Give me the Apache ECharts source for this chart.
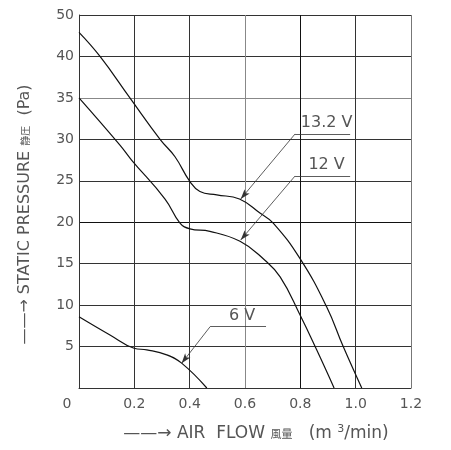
<!DOCTYPE html>
<html>
<head>
<meta charset="utf-8">
<script src="https://cdn.jsdelivr.net/npm/echarts@6/dist/echarts.min.js"></script>
<style>
  html, body { margin: 0; padding: 0; background: #fff; }
  #main { width: 451px; height: 450px; }
</style>
</head>
<body>
<div id="main"></div>
<script>
// air flow (m3/min) and static pressure (Pa)
const flow132 = [0, 0.076, 0.184, 0.293, 0.347, 0.401, 0.437, 0.498, 0.58, 0.654, 0.702, 0.799, 0.895, 0.955, 1.022];
const pres132 = [42.9, 40.0, 35.0, 30.0, 27.9, 24.9, 23.7, 23.3, 22.8, 21.1, 19.9, 15.6, 9.8, 5.0, 0];

const flow12 = [0, 0.148, 0.19, 0.311, 0.365, 0.401, 0.473, 0.582, 0.666, 0.727, 0.799, 0.859, 0.922];
const pres12 = [35.0, 29.3, 27.5, 22.8, 19.9, 19.2, 18.9, 17.7, 15.6, 13.4, 8.8, 4.6, 0];

const flow6 = [0, 0.112, 0.199, 0.245, 0.317, 0.371, 0.462];
const pres6 = [8.6, 6.4, 4.8, 4.6, 4.0, 3.0, 0];

// tick labels (the drawing labels its top line "50")
const yTickLabels = ['0', '5', '10', '15', '20', '25', '30', '35', '40', '50'];
const xTickLabels = ['0', '0.2', '0.4', '0.6', '0.8', '1.0', '1.2'];

// callouts: [label, point on curve, elbow, end of underline]
const callouts = [
    ['13.2 V', [0.5845, 22.8], [0.781, 30.65], [0.98, 30.65]],
    ['12 V', [0.5845, 17.86], [0.781, 25.58], [0.98, 25.58]],
    ['6 V', [0.371, 2.98], [0.474, 7.4], [0.676, 7.4]]
];

const chart = echarts.init(document.getElementById('main'));

const txt = '#555';
const font = 'DejaVu Sans';

function pairs(xs, ys) {
    return xs.map((x, i) => [x, ys[i]]);
}

function calloutLines(c) {
    return {
        silent: true,
        animation: false,
        lineStyle: { color: '#333', width: 0.8, type: 'solid' },
        data: [
            [
                { coord: c[1], symbol: 'arrow', symbolSize: [5, 10] },
                { coord: c[2], symbol: 'none' }
            ],
            [
                { coord: c[2], symbol: 'none' },
                {
                    coord: c[3], symbol: 'none',
                    label: {
                        show: true,
                        position: 'insideMiddleTop',
                        formatter: c[0],
                        color: txt,
                        fontFamily: font,
                        fontSize: 16,
                        distance: 3,
                        offset: [4, 0]
                    }
                }
            ]
        ],
        label: { show: false }
    };
}

const seriesData = [
    pairs(flow132, pres132),
    pairs(flow12, pres12),
    pairs(flow6, pres6)
];

const option = {
    animation: false,
    backgroundColor: '#fff',
    grid: { left: 79, right: 40, top: 15, bottom: 62 },
    xAxis: {
        type: 'value',
        min: 0, max: 1.2, interval: 0.2,
        name: '{arr|——→} AIR  FLOW {cjk|風量}   (m {sup|3}/min)',
        nameLocation: 'middle',
        nameGap: 36,
        nameTextStyle: {
            color: txt, fontFamily: font, fontSize: 17,
            padding: [0, 0, 0, 22],
            rich: {
                arr: { fontFamily: font, fontSize: 17, color: txt },
                cjk: { fontFamily: 'Noto Sans CJK JP', fontSize: 11, color: txt },
                sup: { fontFamily: font, fontSize: 11, color: txt, padding: [0, 0, 8, 0] }
            }
        },
        axisLine: { lineStyle: { color: '#333', width: 1 } },
        axisTick: { show: false },
        axisLabel: {
            color: txt, fontFamily: font, fontSize: 14, margin: 9,
            formatter: function (v) {
                const lab = xTickLabels[Math.round(v / 0.2)];
                return v === 0 ? '{o|' + lab + '}' : lab;
            },
            rich: { o: { color: txt, fontFamily: font, fontSize: 14, padding: [0, 24, 0, 0] } }
        },
        splitLine: {
            show: true,
            lineStyle: { color: ['#333', '#333', '#333', '#888', '#111', '#333', '#777'], width: 1 }
        }
    },
    yAxis: {
        type: 'value',
        min: 0, max: 45, interval: 5,
        name: '{arr|——→} STATIC PRESSURE {cjk|静圧}  (Pa)',
        nameLocation: 'middle',
        nameGap: 46,
        nameTextStyle: {
            color: txt, fontFamily: font, fontSize: 16,
            padding: [0, 26, 0, 0],
            rich: {
                arr: { fontFamily: font, fontSize: 16, color: txt },
                cjk: { fontFamily: 'Noto Sans CJK JP', fontSize: 10, color: txt }
            }
        },
        axisLine: { show: true, lineStyle: { color: '#333', width: 1 } },
        axisTick: { show: false },
        axisLabel: {
            color: txt, fontFamily: font, fontSize: 14, margin: 5,
            showMinLabel: false,
            formatter: function (v) { return yTickLabels[Math.round(v / 5)]; }
        },
        splitLine: {
            show: true,
            lineStyle: { color: ['#333', '#333', '#333', '#333', '#111', '#333', '#333', '#888', '#333', '#333'], width: 1 }
        }
    },
    series: seriesData.map((d, i) => ({
        type: 'line',
        data: d,
        smooth: 0.45,
        showSymbol: false,
        lineStyle: { color: '#111', width: 1.2 },
        markLine: calloutLines(callouts[i])
    }))
};

chart.setOption(option);

window.addEventListener('resize', function () {
    chart.resize();
});
</script>
</body>
</html>
